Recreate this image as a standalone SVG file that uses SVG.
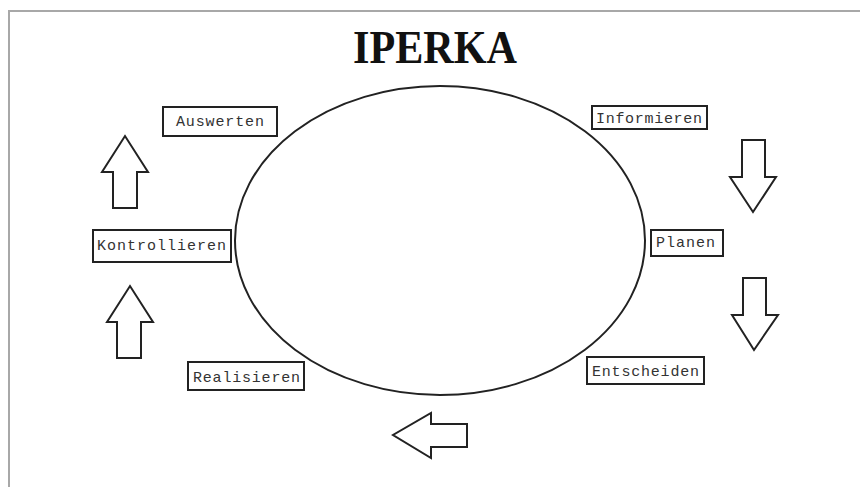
<svg xmlns="http://www.w3.org/2000/svg" width="860" height="487" viewBox="0 0 860 487">
<style>
.frame{fill:none;stroke:#a8a8a8;stroke-width:2}
.box{fill:#fff;stroke:#222;stroke-width:2}
.lbl{font-family:"Liberation Mono","DejaVu Sans Mono",monospace;font-size:15px;fill:#333}
.arrow{fill:#fff;stroke:#222;stroke-width:2;stroke-linejoin:miter}
.title{font-family:"Liberation Serif","Times New Roman",serif;font-weight:bold;font-size:47px;fill:#111}
</style>
<rect x="0" y="0" width="860" height="487" fill="#fff"/>
<path class="frame" d="M9,487 V11 H860"/>
<text class="title" x="353" y="63" textLength="164" lengthAdjust="spacingAndGlyphs">IPERKA</text>
<g id="cycle">
<ellipse cx="440" cy="240.5" rx="205" ry="154.5" fill="none" stroke="#222" stroke-width="2"/>
</g>
<g id="informieren">
<rect class="box" x="592" y="106" width="115" height="23"/>
<text class="lbl" x="596" y="123" textLength="106" lengthAdjust="spacing">Informieren</text>
</g>
<g id="planen">
<rect class="box" x="651" y="230" width="72" height="26"/>
<text class="lbl" x="656" y="247" textLength="59" lengthAdjust="spacing">Planen</text>
</g>
<g id="entscheiden">
<rect class="box" x="587" y="357" width="117" height="27"/>
<text class="lbl" x="592" y="376" textLength="107" lengthAdjust="spacing">Entscheiden</text>
</g>
<g id="realisieren">
<rect class="box" x="188" y="362" width="116" height="28"/>
<text class="lbl" x="193" y="382" textLength="107" lengthAdjust="spacing">Realisieren</text>
</g>
<g id="kontrollieren">
<rect class="box" x="93" y="230" width="138" height="32"/>
<text class="lbl" x="97" y="250" textLength="129" lengthAdjust="spacing">Kontrollieren</text>
</g>
<g id="auswerten">
<rect class="box" x="163" y="107" width="114" height="29"/>
<text class="lbl" x="176" y="126" textLength="88" lengthAdjust="spacing">Auswerten</text>
</g>
<g id="connectors">
<polygon class="arrow" points="742,140 765,140 765,177 776,177 753,212 730,177 742,177"/>
<polygon class="arrow" points="743,278 766,278 766,315 778,315 754,350 732,315 743,315"/>
<polygon class="arrow" points="467,424 467,447 431,447 431,458 393,435 431,413 431,424"/>
<polygon class="arrow" points="117,358 141,358 141,322 153,322 130,286 107,322 117,322"/>
<polygon class="arrow" points="113,208 137,208 137,172 148,172 125,136 102,172 113,172"/>
</g>
</svg>
